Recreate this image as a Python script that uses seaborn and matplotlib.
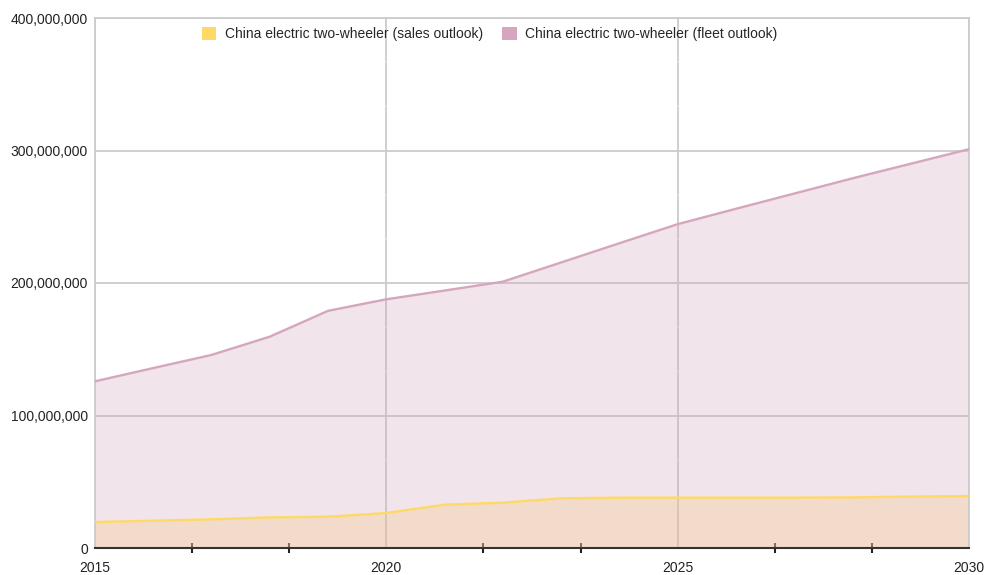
import numpy as np
import pandas as pd
import matplotlib
matplotlib.use("Agg")
import matplotlib.pyplot as plt
import matplotlib.ticker as mticker
from matplotlib.patches import Patch
import seaborn as sns

years = list(range(2015, 2031))
sales = [19.6, 20.6, 21.6, 23.1, 23.6, 26.4, 32.7, 34.2, 37.5, 38.0,
         38.0, 38.0, 38.0, 38.2, 38.8, 39.2]
fleet = [125.8, 135.8, 145.7, 159.5, 179.0, 187.7, 194.3, 201.0, 215.5, 230.0,
         244.4, 256.0, 267.5, 279.0, 290.0, 301.0]
series_names = ["China electric two-wheeler (sales outlook)",
                "China electric two-wheeler (fleet outlook)"]
series_colors = ["#ffd966", "#d5a6bd"]

df = pd.DataFrame({"year": years,
                   series_names[0]: np.array(sales) * 1e6,
                   series_names[1]: np.array(fleet) * 1e6})
long_df = df.melt(id_vars="year", var_name="series", value_name="units")

sns.set_style("white")
plt.rcParams["font.family"] = ["Liberation Sans", "DejaVu Sans"]

fig = plt.figure(figsize=(9.85, 5.75), dpi=100)
ax = fig.add_axes([95 / 985, 27 / 575, 874 / 985, 530 / 575])

# filled areas (sales first, fleet on top)
for name, col in zip(series_names, series_colors):
    ax.fill_between(df["year"], 0, df[name], color=col, alpha=0.3, lw=0, zorder=2)

sns.lineplot(data=long_df, x="year", y="units", hue="series",
             palette=dict(zip(series_names, series_colors)),
             linewidth=1.7, legend=False, ax=ax, zorder=4)

ax.set_xlim(2015, 2030)
ax.set_ylim(0, 400e6)
ax.set_xticks([2015, 2020, 2025, 2030])
ax.set_xticks(np.arange(2015, 2030.01, 5 / 3), minor=True)
ax.set_yticks(np.arange(0, 400e6 + 1, 100e6))
ax.set_yticks(np.arange(0, 400e6 + 1, 100e6 / 3), minor=True)
ax.yaxis.set_major_formatter(mticker.FuncFormatter(lambda v, p: f"{int(v):,}"))

ax.grid(True, which="major", color="#cccccc", lw=1.3)
ax.grid(True, which="minor", color="white", lw=1.2, alpha=0.3)
for gl in ax.get_xgridlines() + ax.get_ygridlines():
    gl.set_zorder(1)
for gl in ax.xaxis.get_minorticklines():
    pass

for side in ["left", "right", "top"]:
    ax.spines[side].set_color("#cccccc")
    ax.spines[side].set_linewidth(1.3)
ax.spines["bottom"].set_color("#333333")
ax.spines["bottom"].set_linewidth(1.5)
ax.spines["bottom"].set_zorder(5)

ax.tick_params(axis="x", which="major", length=0, pad=9, labelsize=10, colors="#222222")
ax.tick_params(axis="x", which="minor", direction="inout", length=7, width=1.5,
               color="#222222", bottom=True)
ax.tick_params(axis="y", which="both", length=0, pad=5, labelsize=10, labelcolor="#222222")
ax.set_xlabel("")
ax.set_ylabel("")

handles = [Patch(facecolor=c, edgecolor="none") for c in series_colors]
fig.legend(handles, series_names, loc="center", bbox_to_anchor=(0.497, 1 - 34 / 575),
           ncol=2, frameon=False, fontsize=10, handlelength=1.05, handleheight=1.05,
           columnspacing=1.4, handletextpad=0.6)

fig.savefig("out.png", dpi=100)
